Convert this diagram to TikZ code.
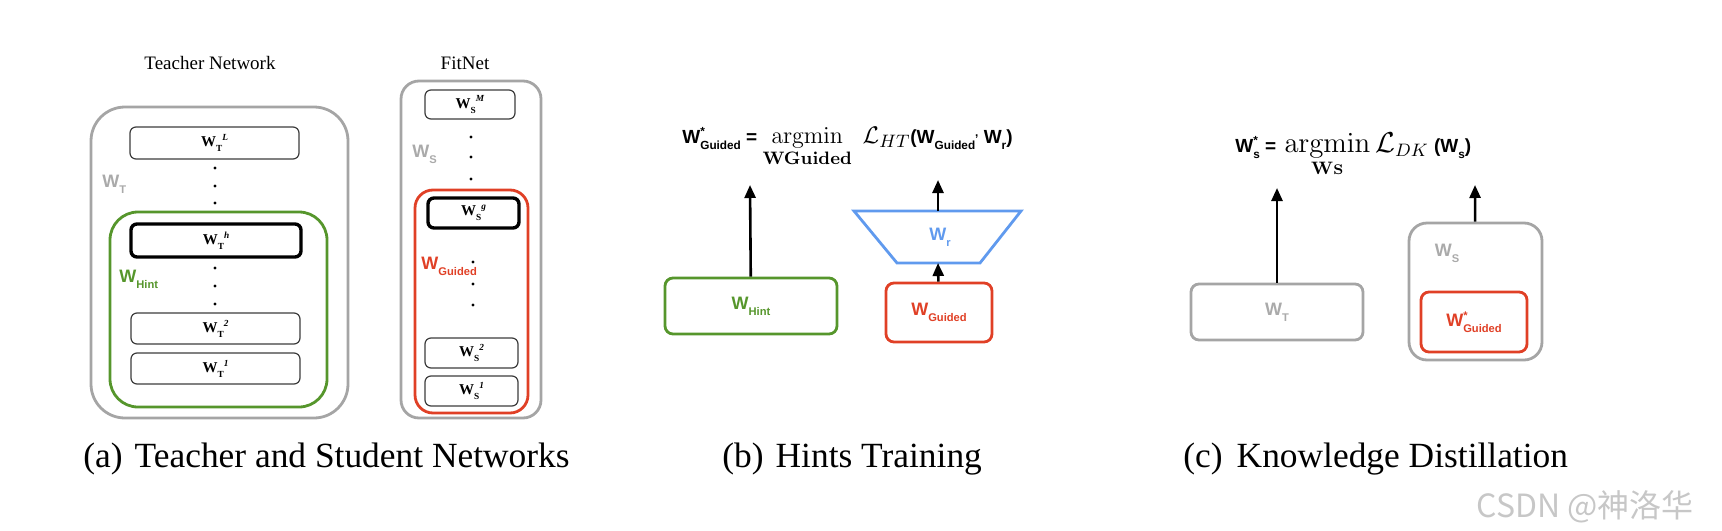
\documentclass[tikz,border=0pt]{standalone}
\usepackage[no-math]{fontspec}
\setmainfont{Liberation Serif}
\setsansfont{Liberation Sans}
\newfontfamily\cjk{Noto Sans CJK SC}
\usepackage{amsmath}
\usepackage{graphicx}
\usepackage{xcolor}
\usetikzlibrary{arrows.meta}
\definecolor{NetGray}{RGB}{165,165,165}
\definecolor{LabGray}{RGB}{170,170,170}
\definecolor{HintGreen}{RGB}{86,150,44}
\definecolor{GuidedRed}{RGB}{224,64,38}
\definecolor{RegBlue}{RGB}{96,154,238}
\definecolor{LayerEdge}{RGB}{60,60,60}
% layer label: W, subscript, superscript
\newcommand{\lw}[2]{\textbf{W}\raisebox{-0.32em}{\scalebox{0.62}{\textbf{#1}}}\raisebox{0.42em}{\scalebox{0.62}{\textbf{\textit{#2}}}}}
% sans labels
\newcommand{\sw}[1]{W\raisebox{-0.32em}{\scalebox{0.62}{#1}}}
\newcommand{\swstar}[1]{W\rlap{\raisebox{0.42em}{\scalebox{0.62}{*}}}\raisebox{-0.32em}{\scalebox{0.62}{#1}}}

\begin{document}
\begin{tikzpicture}[x=0.5pt,y=-0.5pt,
  net/.style={draw=NetGray,line width=1.4pt,rounded corners=#1,inner sep=0},
  net/.default=9pt,
  hint/.style={draw=HintGreen,line width=1.4pt,rounded corners=#1,inner sep=0},
  hint/.default=4pt,
  guided/.style={draw=GuidedRed,line width=1.4pt,rounded corners=#1,inner sep=0},
  guided/.default=4pt,
  layer/.style={draw=LayerEdge,line width=0.6pt,rounded corners=3pt,inner sep=0,
                font=\fontsize{7.5}{9}\selectfont},
  hintlayer/.style={layer,draw=black,line width=1.7pt},
  wlab/.style={inner sep=0,font=\sffamily\bfseries\fontsize{9}{11}\selectfont},
  title/.style={inner sep=0,font=\fontsize{9.5}{11}\selectfont},
  capt/.style={inner sep=0,anchor=base west,font=\fontsize{17.7}{21}\selectfont},
  formula/.style={inner sep=0,anchor=base west,font=\sffamily\bfseries\fontsize{9.5}{11}\selectfont},
  arr/.style={-{Triangle[length=6.5pt,width=5.5pt]},line width=1.3pt},
]
\useasboundingbox (0,0) rectangle (1722,530);

% (a) teacher network
\node[title] (ttitle) at (210,63) {Teacher Network};
\node[net=17pt,minimum width=128.5pt,minimum height=155.5pt] (teacher) at (219.5,262.5) {};
\node[hint=14pt,minimum width=108.5pt,minimum height=97.5pt] (hintbox) at (218.5,309.5) {};
\node[layer,minimum width=84.5pt,minimum height=16pt] (tL) at (214.5,143) {\lw{T}{L}};
\node[hintlayer,minimum width=85pt,minimum height=16.5pt] (th) at (216,240.5) {\lw{T}{h}};
\node[layer,minimum width=84.5pt,minimum height=15.5pt] (t2) at (215.5,328.5) {\lw{T}{2}};
\node[layer,minimum width=84.5pt,minimum height=15.5pt] (t1) at (215.5,368.5) {\lw{T}{1}};
\foreach \y in {168,186,203,268,286,304}
  \fill (215,\y) circle (0.8pt);
\node[wlab,text=LabGray,anchor=west] (wt) at (102,184) {\sw{T}};
\node[wlab,text=HintGreen,anchor=west] (whint) at (119,279) {\sw{Hint}};

% (a) student network
\node[title] (stitle) at (465,63) {FitNet};
\node[net=9pt,minimum width=70pt,minimum height=168.5pt] (student) at (471,249.5) {};
\node[guided=9pt,minimum width=56.5pt,minimum height=111.5pt] (guidedbox) at (471.5,301.5) {};
\node[layer,minimum width=45pt,minimum height=14.5pt] (sM) at (470,104.5) {\lw{S}{M}};
\node[hintlayer,minimum width=45.5pt,minimum height=15pt] (sg) at (473.5,213) {\lw{S}{g}};
\node[layer,minimum width=46.5pt,minimum height=15pt] (s2) at (471.5,353) {\lw{S}{2}};
\node[layer,minimum width=46.5pt,minimum height=15pt] (s1) at (471.5,391) {\lw{S}{1}};
\foreach \y in {137,157,179}
  \fill (471,\y) circle (0.8pt);
\foreach \y in {262,284,305}
  \fill (473,\y) circle (0.8pt);
\node[wlab,text=LabGray,anchor=west] (ws) at (412,154) {\sw{S}};
\node[wlab,text=GuidedRed,anchor=west] (wguided) at (421,266) {\sw{Guided}};

% (b) hints training
\node[formula] (lossb) at (682,143) {\swstar{Guided} = {\fontsize{12.3}{14}\selectfont$\displaystyle\operatorname*{argmin}_{\mathbf{WGuided}}\ \mathcal{L}_{HT}$}(\sw{Guided}\raisebox{0.35em}{\scalebox{0.62}{,}} \sw{r})};
\node[hint=4pt,minimum width=86pt,minimum height=28pt,wlab,text=HintGreen] (hintb) at (751,306) {\sw{Hint}};
\coordinate (hintout) at (750,185);
\draw[arr] (hintb) -- (hintout);
\draw[draw=RegBlue,line width=1.4pt] (854,211) -- (1021,211) -- (980,263) -- (897,263) -- cycle;
\node[wlab,text=RegBlue] (wr) at (940,237) {\sw{r}};
\coordinate (regtop) at (938,211);
\coordinate (regbot) at (938,263);
\coordinate (regout) at (938,180);
\node[guided=4pt,minimum width=53pt,minimum height=29.5pt,wlab,text=GuidedRed] (guidedb) at (939,312.5) {\sw{Guided}};
\draw[arr] (guidedb) -- (regbot);
\draw[arr] (regtop) -- (regout);

% (c) knowledge distillation
\node[formula] (lossc) at (1235,152) {\swstar{s} =\hspace{4pt}{\fontsize{13.5}{15}\selectfont$\displaystyle\operatorname*{argmin}_{\mathbf{W}{\scriptscriptstyle\mathbf{S}}}\mathcal{L}_{DK}$} (\sw{s})};
\node[net=4pt,minimum width=86pt,minimum height=28pt,wlab,text=LabGray] (teacherc) at (1277,312) {\sw{T}};
\coordinate (teacherout) at (1277,188);
\draw[arr] (teacherc) -- (teacherout);
\node[net=9pt,minimum width=66.5pt,minimum height=68.5pt] (studentc) at (1475.5,291.5) {};
\node[wlab,text=LabGray] (wsc) at (1447,253) {\sw{S}};
\node[guided=4pt,minimum width=53pt,minimum height=30pt,wlab,text=GuidedRed] (guidedc) at (1474,322) {\swstar{Guided}};
\coordinate (studentout) at (1475,185);
\draw[arr] (studentc) -- (studentout);

% captions
\node[capt] (capa) at (83,467) {(a)\hspace{6pt}Teacher and Student Networks};
\node[capt] (capb) at (722,467) {(b)\hspace{6pt}Hints Training};
\node[capt] (capc) at (1183,467) {(c)\hspace{7pt}Knowledge Distillation};
\node[inner sep=0,anchor=west,text=black!22,font=\cjk\fontsize{16}{18}\selectfont] (mark) at (1476,507) {CSDN @神洛华};
\end{tikzpicture}
\end{document}
